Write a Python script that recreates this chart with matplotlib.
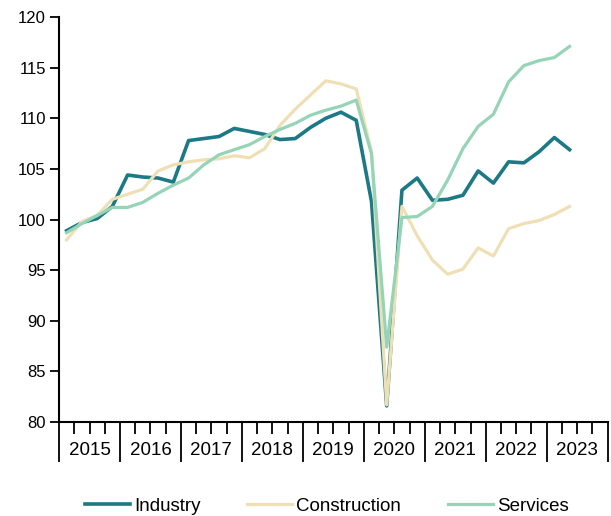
import matplotlib
matplotlib.use("Agg")
from matplotlib import pyplot as plt
import numpy as np

plt.rcParams['font.family'] = ['Liberation Sans', 'DejaVu Sans']

# quarterly index values, 2015 Q1 - 2023 Q2
years = ['2015', '2016', '2017', '2018', '2019', '2020', '2021', '2022', '2023']

industry = [98.9, 99.7, 100.1, 101.3, 104.4, 104.2, 104.1, 103.7, 107.8, 108.0,
            108.2, 109.0, 108.7, 108.4, 107.9, 108.0, 109.1, 110.0, 110.6, 109.8,
            101.8, 81.6, 102.9, 104.1, 101.9, 102.0, 102.4, 104.8, 103.6, 105.7,
            105.6, 106.7, 108.1, 106.9]
construction = [98.0, 99.8, 100.4, 102.0, 102.5, 103.0, 104.8, 105.4, 105.7, 105.9,
                106.0, 106.3, 106.1, 107.0, 109.3, 110.9, 112.3, 113.7, 113.4, 112.9,
                106.7, 81.7, 101.3, 98.4, 96.0, 94.6, 95.1, 97.2, 96.4, 99.1,
                99.6, 99.9, 100.5, 101.3]
services = [98.7, 99.6, 100.4, 101.2, 101.2, 101.7, 102.6, 103.4, 104.1, 105.4,
            106.4, 106.9, 107.4, 108.2, 108.9, 109.5, 110.3, 110.8, 111.2, 111.8,
            106.5, 87.4, 100.2, 100.3, 101.3, 103.9, 107.0, 109.2, 110.4, 113.6,
            115.2, 115.7, 116.0, 117.1]

x = np.arange(len(industry)) + 0.5

fig = plt.figure(figsize=(6.11, 5.16), dpi=100)
ax = fig.add_axes([0.0966, 0.182, 0.898, 0.785])

# Excel draws series in order: services ends up on top
ax.plot(x, industry, color='#1b7a85', lw=2.6, label='Industry')
ax.plot(x, construction, color='#efdfb5', lw=2.3, label='Construction')
ax.plot(x, services, color='#96d4b7', lw=2.3, label='Services')

ax.set_ylim(80, 120)
ax.set_yticks(range(80, 121, 5))
ax.set_xlim(0, 36)

# long lines between years, short ticks between quarters
ax.set_xticks(range(0, 37, 4))
ax.set_xticklabels([])
ax.set_xticks([q for q in range(1, 36) if q % 4 != 0], minor=True)
ax.tick_params(axis='x', which='major', length=29, width=1.3, color='black')
ax.tick_params(axis='x', which='minor', length=8.5, width=1.3, color='black')
ax.tick_params(axis='y', length=6.5, width=1.3, labelsize=12, pad=3)

for i, yr in enumerate(years):
    ax.text(4 * i + 2, -0.069, yr, transform=ax.get_xaxis_transform(),
            ha='center', va='center', fontsize=13.5)

for s in ['top', 'right']:
    ax.spines[s].set_visible(False)
for s in ['left', 'bottom']:
    ax.spines[s].set_linewidth(1.5)

fig.legend(loc='center', bbox_to_anchor=(0.535, 0.019), ncol=3, frameon=False,
           fontsize=13.5, handlelength=2.4, handletextpad=0.2, columnspacing=2.5)

plt.savefig('out.png', dpi=100)
